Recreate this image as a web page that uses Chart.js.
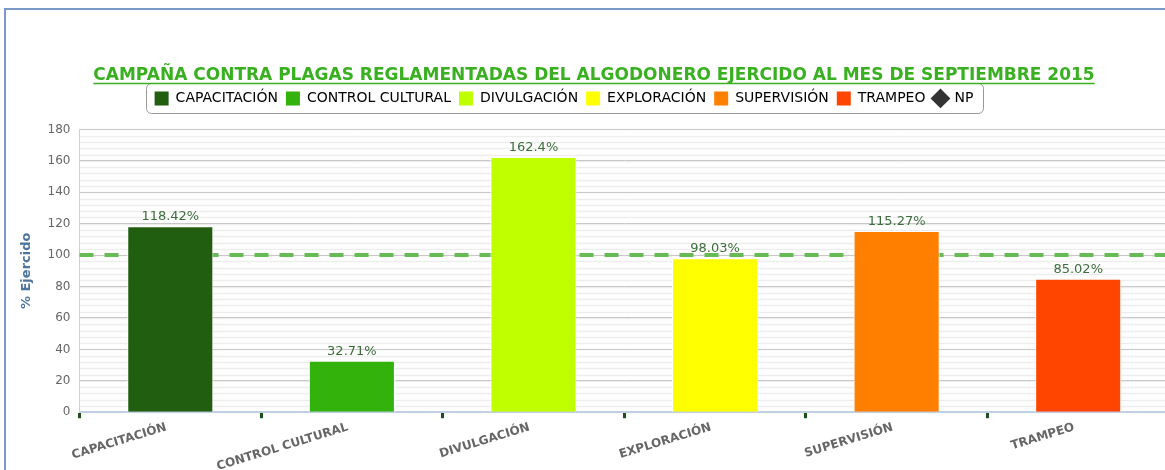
<!DOCTYPE html>
<html>
<head>
<meta charset="utf-8">
<script src="https://cdn.jsdelivr.net/npm/chart.js@4.4.0/dist/chart.umd.min.js"></script>
<style>
  html, body { margin: 0; padding: 0; background: #fff; overflow: hidden; }
  #frame {
    position: absolute; left: 4px; top: 8px; width: 1300px; height: 600px;
    border-left: 2px solid #7a98c8; border-top: 2px solid #7a98c8;
  }
  #wrap { position: absolute; left: 0; top: 0; width: 1185px; height: 470px; }
</style>
</head>
<body>
<div id="frame"></div>
<div id="wrap"><canvas id="chart"></canvas></div>
<script>
// chart data
const categories = ["CAPACITACIÓN", "CONTROL CULTURAL", "DIVULGACIÓN", "EXPLORACIÓN", "SUPERVISIÓN", "TRAMPEO"];
const ejercido = [118.42, 32.71, 162.4, 98.03, 115.27, 85.02];
const barColors = ["#215e10", "#33b20b", "#bfff00", "#ffff00", "#ff7f00", "#ff4500"];
const npLabel = "NP";
const npData = [null, null, null, null, null, null];
const metaLine = 100; // dashed reference line
const yMin = 0, yMax = 180, yStep = 20, yMinorStep = 4;

const FONT = "'DejaVu Sans', Verdana, sans-serif";

// light minor grid lines drawn under everything
const minorGrid = {
  id: "minorGrid",
  beforeDraw(chart) {
    const { ctx, chartArea, scales } = chart;
    const y = scales.y;
    ctx.save();
    ctx.strokeStyle = "#ededed";
    ctx.lineWidth = 1.5;
    for (let v = yMin; v <= yMax; v += yMinorStep) {
      const py = Math.round(y.getPixelForValue(v)) + 0.5;
      ctx.beginPath();
      ctx.moveTo(chartArea.left, py);
      ctx.lineTo(chartArea.right, py);
      ctx.stroke();
    }
    ctx.restore();
  }
};

// dashed line at 100% behind the bars
const metaPlugin = {
  id: "metaLine",
  beforeDatasetsDraw(chart) {
    const { ctx, chartArea, scales } = chart;
    const py = scales.y.getPixelForValue(metaLine);
    ctx.save();
    ctx.strokeStyle = "#66bb55";
    ctx.lineWidth = 4;
    ctx.setLineDash([14, 11]);
    ctx.beginPath();
    ctx.moveTo(chartArea.left, py);
    ctx.lineTo(chartArea.right, py);
    ctx.stroke();
    ctx.restore();
  }
};

// value labels above the bars
const valueLabels = {
  id: "valueLabels",
  afterDatasetsDraw(chart) {
    const { ctx } = chart;
    const meta = chart.getDatasetMeta(0);
    ctx.save();
    ctx.font = "13px " + FONT;
    ctx.fillStyle = "#3b6e3b";
    ctx.textAlign = "center";
    ctx.textBaseline = "bottom";
    meta.data.forEach((bar, i) => {
      ctx.fillText(ejercido[i] + "%", bar.x, bar.y - 3);
    });
    ctx.restore();
  }
};

// extra room under the legend, and legend moved a bit to the left
const legendSpace = {
  id: "legendSpace",
  beforeLayout(chart) {
    const lg = chart.legend;
    if (lg && !lg._spaced) {
      const fit = lg.fit;
      lg.fit = function () {
        fit.call(this);
        this.height += 14;
      };
      lg._spaced = true;
    }
  },
  afterLayout(chart) {
    const lg = chart.legend;
    lg.left -= 30;
    lg.right -= 30;
  }
};

// rounded border round the legend + title underline
const decorations = {
  id: "decorations",
  afterDraw(chart) {
    const { ctx } = chart;
    const boxes = chart.legend.legendHitBoxes;
    if (boxes && boxes.length) {
      let left = Infinity, right = -Infinity, top = Infinity, bottom = -Infinity;
      boxes.forEach((b) => {
        left = Math.min(left, b.left);
        right = Math.max(right, b.left + b.width);
        top = Math.min(top, b.top);
        bottom = Math.max(bottom, b.top + b.height);
      });
      ctx.save();
      ctx.strokeStyle = "#999";
      ctx.lineWidth = 1;
      ctx.beginPath();
      ctx.roundRect(Math.round(left - 9) + 0.5, Math.round(top - 8) + 0.5, Math.round(right - left + 18), Math.round(bottom - top + 16), 5);
      ctx.stroke();
      ctx.restore();
    }
    const tb = chart.titleBlock;
    const topt = chart.options.plugins.title;
    ctx.save();
    ctx.font = "bold " + topt.font.size + "px " + FONT;
    const w = ctx.measureText(topt.text).width;
    const cx = (tb.left + tb.right) / 2;
    const yLine = tb.top + topt.padding.top + topt.font.size * 1.2 - 2;
    ctx.strokeStyle = "#38b020";
    ctx.lineWidth = 1.5;
    ctx.beginPath();
    ctx.moveTo(cx - w / 2, yLine);
    ctx.lineTo(cx + w / 2, yLine);
    ctx.stroke();
    ctx.restore();
  }
};

new Chart(document.getElementById("chart"), {
  type: "bar",
  data: {
    labels: categories,
    datasets: [
      {
        label: "% Ejercido",
        data: ejercido,
        backgroundColor: barColors,
        borderColor: "#ffffff",
        borderWidth: 1,
        categoryPercentage: 1,
        barPercentage: 0.474,
        order: 1,
      },
      {
        type: "line",
        label: npLabel,
        data: npData,
        borderColor: "#333333",
        backgroundColor: "#333333",
        pointStyle: "rectRot",
        order: 2,
      },
    ],
  },
  options: {
    responsive: true,
    maintainAspectRatio: false,
    animation: false,
    layout: { padding: { top: 0, left: 19, right: 16, bottom: -6 } },
    plugins: {
      title: {
        display: true,
        text: "CAMPAÑA CONTRA PLAGAS REGLAMENTADAS DEL ALGODONERO EJERCIDO AL MES DE SEPTIEMBRE 2015",
        color: "#38b020",
        font: { family: FONT, size: 17, weight: "bold" },
        padding: { top: 65, bottom: -2 },
      },
      legend: {
        display: true,
        labels: {
          color: "#333",
          font: { family: FONT, size: 14 },
          usePointStyle: true,
          boxWidth: 15,
          boxHeight: 15,
          padding: 8,
          generateLabels() {
            const items = categories.map((c, i) => ({
              text: c,
              fillStyle: barColors[i],
              strokeStyle: barColors[i],
              lineWidth: 0,
              pointStyle: "rect",
              hidden: false,
              datasetIndex: 0,
            }));
            items.push({
              text: npLabel,
              fillStyle: "#333333",
              strokeStyle: "#333333",
              lineWidth: 0,
              pointStyle: "rectRot",
              hidden: false,
              datasetIndex: 1,
            });
            return items;
          },
        },
        onClick() {},
      },
      tooltip: { enabled: false },
    },
    scales: {
      x: {
        offset: true,
        grid: {
          offset: true,
          drawOnChartArea: false,
          color: "#1f4f1f",
          lineWidth: 3,
          tickLength: 6,
        },
        border: { display: true, color: "#c0d0e0", width: 2 },
        ticks: {
          color: "#666",
          font: { family: FONT, size: 12, weight: "bold" },
          minRotation: 17,
          maxRotation: 17,
          autoSkip: false,
          padding: 2,
          labelOffset: -4,
        },
      },
      y: {
        min: yMin,
        max: yMax,
        ticks: {
          stepSize: yStep,
          color: "#666",
          font: { family: FONT, size: 12 },
          padding: 9,
        },
        grid: { color: "#c8c8c8", lineWidth: 1, drawTicks: false },
        border: { display: true, color: "#d0d0d0", width: 1 },
        title: {
          display: true,
          text: "% Ejercido",
          color: "#4d759e",
          font: { family: FONT, size: 13, weight: "bold" },
          padding: { top: 0, bottom: 4 },
        },
      },
    },
  },
  plugins: [legendSpace, minorGrid, metaPlugin, valueLabels, decorations],
});
</script>
</body>
</html>
